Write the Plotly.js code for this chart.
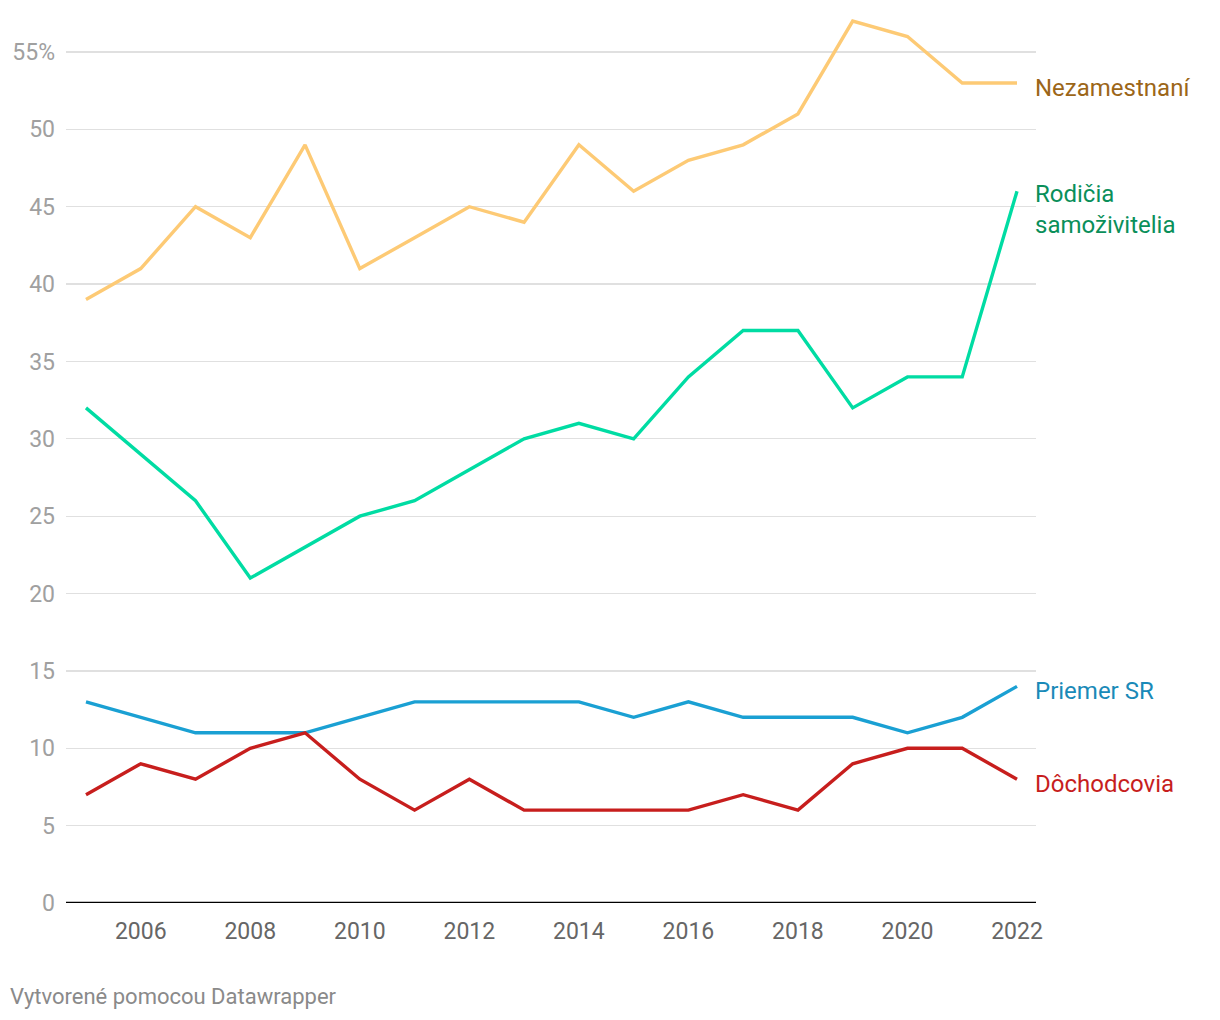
<!DOCTYPE html>
<html>
<head>
<meta charset="utf-8">
<script src="https://cdn.plot.ly/plotly-3.0.1.min.js"></script>
<style>
html,body{margin:0;padding:0;background:#fff;}
#chart{width:1220px;height:1020px;}
</style>
</head>
<body>
<div id="chart"></div>
<script>
const years = [2005,2006,2007,2008,2009,2010,2011,2012,2013,2014,2015,2016,2017,2018,2019,2020,2021,2022];
const nezamestnani = [39,41,45,43,49,41,43,45,44,49,46,48,49,51,57,56,53,53];
const rodicia = [32,29,26,21,23,25,26,28,30,31,30,34,37,37,32,34,34,46];
const priemer = [13,12,11,11,11,12,13,13,13,13,12,13,12,12,12,11,12,14];
const dochodcovia = [7,9,8,10,11,8,6,8,6,6,6,6,7,6,9,10,10,8];
const seriesNames = ["Nezamestnaní","Rodičia<br>samoživitelia","Priemer SR","Dôchodcovia"];
const xTickVals = [2006,2008,2010,2012,2014,2016,2018,2020,2022];
const yTickVals = [0,5,10,15,20,25,30,35,40,45,50,55];
const yTickText = ["0","5","10","15","20","25","30","35","40","45","50","55%"];

const lineColors = ["#fdca75","#00dca3","#1aa0d3","#c71e1d"];
const labelColors = ["#9c6618","#0a8f5a","#1a8ab8","#c71e1d"];
const allSeries = [nezamestnani, rodicia, priemer, dochodcovia];

const traces = allSeries.map((s,i)=>({
  x: years, y: s, type:'scatter', mode:'lines',
  line:{color:lineColors[i], width:3.4},
  hoverinfo:'skip', showlegend:false
}));

const annotations = allSeries.map((s,i)=>({
  x: years[years.length-1], y: s[s.length-1], xref:'x', yref:'y',
  text: seriesNames[i], showarrow:false, xanchor:'left', yanchor:'middle',
  xshift: 16, yshift: i===1 ? -18 : -5,
  align:'left',
  font:{family:'Roboto', size:24, color:labelColors[i]}
}));
annotations.push({
  xref:'paper', yref:'paper', x:-66/970, y:-(997-903)/888, xanchor:'left', yanchor:'middle',
  xshift: 8,
  text:'Vytvorené pomocou Datawrapper', showarrow:false,
  font:{family:'Roboto', size:22, color:'#8a8a8a'}
});

const layout = {
  width:1220, height:1020,
  margin:{l:66, r:184, t:15, b:117},
  paper_bgcolor:'#fff', plot_bgcolor:'#fff',
  font:{family:'Roboto'},
  xaxis:{
    range:[2004.635, 2022.347],
    tickvals:xTickVals, ticktext:xTickVals.map(String),
    showgrid:false, zeroline:false,
    showline:false, ticks:'',
    tickfont:{family:'Roboto', size:23, color:'#666'},
    ticklabelstandoff: 12
  },
  yaxis:{
    range:[0, 57.39],
    tickvals:yTickVals, ticktext:yTickText,
    showgrid:true, gridcolor:'#e0e0e0', gridwidth:1.2,
    zeroline:false, showline:false, ticks:'',
    tickfont:{family:'Roboto', size:23, color:'#a0a0a0'},
    ticklabelstandoff: 10
  },
  shapes:[{type:'line', xref:'paper', yref:'y', x0:0, x1:1, y0:0, y1:0, layer:'above', line:{color:'#000', width:2.5}}],
  annotations: annotations
};

Plotly.newPlot('chart', traces, layout, {displayModeBar:false, staticPlot:true});
</script>
</body>
</html>
